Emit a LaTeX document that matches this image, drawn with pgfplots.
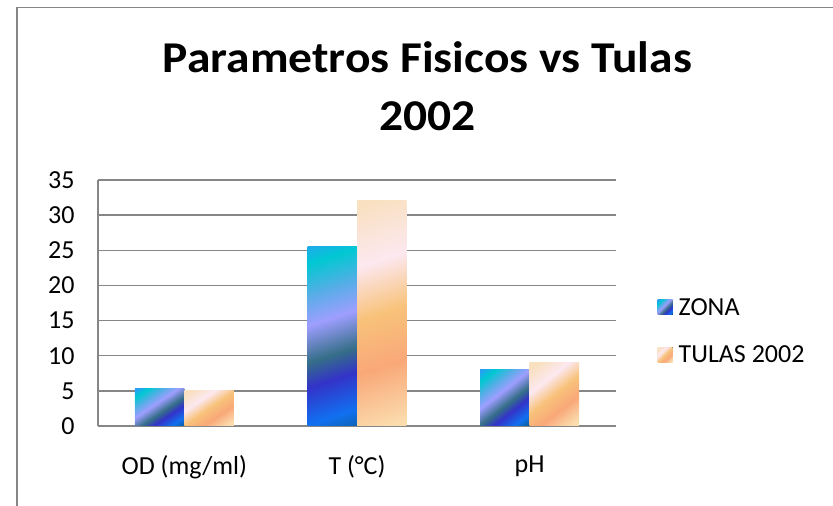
\documentclass[border=0pt]{standalone}
\usepackage{fontspec}
\setmainfont{Carlito}
\newfontfamily\titlefont{Carlito}[FakeStretch=1.08]
\usepackage{pgfplots}
\pgfplotsset{compat=1.18}
\definecolor{gridc}{HTML}{868686}
\definecolor{z1}{HTML}{0B5E9C}
\definecolor{z2}{HTML}{1170F0}
\definecolor{z3}{HTML}{3333C8}
\definecolor{z4}{HTML}{356E88}
\definecolor{z5}{HTML}{9E9EFF}
\definecolor{z6}{HTML}{55AEE6}
\definecolor{z7}{HTML}{00C8D2}
\definecolor{z8}{HTML}{2A9EF5}
\definecolor{t1}{HTML}{FBDCAE}
\definecolor{t2}{HTML}{F9A878}
\definecolor{t3}{HTML}{F8C27A}
\definecolor{t4}{HTML}{FCE8F0}
\definecolor{t5}{HTML}{F9E0C0}
\pgfdeclareverticalshading{zona}{100bp}{color(0bp)=(z1); color(16bp)=(z1); color(24bp)=(z2); color(36bp)=(z3); color(44bp)=(z4); color(56bp)=(z5); color(66bp)=(z6); color(76bp)=(z7); color(84bp)=(z8); color(100bp)=(z8)}
\pgfdeclareverticalshading{tulas}{100bp}{color(0bp)=(t1); color(20bp)=(t1); color(36bp)=(t2); color(50bp)=(t3); color(64bp)=(t4); color(80bp)=(t5); color(100bp)=(t5)}
\pgfplotsset{
 zonabar/.style={ybar, bar width=0.2866, bar shift=-0.1433, draw=none, shading=zona, shading angle=#1,
   legend image code/.code={\fill[shading=zona, shading angle=45] (0bp,-7.5bp) rectangle (15bp,7.5bp);}},
 tulasbar/.style={ybar, bar width=0.2866, bar shift=0.1433, draw=none, shading=tulas, shading angle=#1,
   legend image code/.code={\fill[shading=tulas, shading angle=45] (0bp,-7.5bp) rectangle (15bp,7.5bp);}},
}
\begin{document}
\begin{tikzpicture}
\useasboundingbox (0,0) rectangle (833bp,506bp);
\draw[gridc, line width=1.5bp] (17bp,0) -- (17bp,498.5bp) -- (833bp,498.5bp);
\begin{axis}[
 at={(98bp,80bp)}, anchor=south west,
 width=518bp, height=246bp, scale only axis,
 xmin=-0.5, xmax=2.5, ymin=0, ymax=35,
 xtick={0,1,2}, xticklabels={OD (mg/ml), T (°C), pH},
 ytick={0,5,...,35},
 axis x line*=bottom, axis y line*=left,
 axis line style={gridc, line width=1.3bp, -},
 ymajorgrids, grid style={gridc, line width=1.3bp},
 major tick length=0pt,
 tick label style={font=\fontsize{26bp}{31bp}\selectfont},
 /pgf/number format/assume math mode=true,
 xticklabel style={yshift=-26bp},
 yticklabel style={xshift=-20bp},
 title={Parametros Fisicos vs Tulas\\2002},
 title style={at={(0.636,1.537)}, anchor=north, align=center, font=\titlefont\bfseries\fontsize{44bp}{58bp}\selectfont, inner sep=0pt},
 legend style={at={(1.08,0.386)}, anchor=west, draw=none, fill=none, font=\fontsize{26bp}{31bp}\selectfont, row sep=25bp, inner sep=0pt,
   nodes={inner xsep=6bp}},
 legend cell align=left,
 clip=false,
]
\addplot[zonabar=34] coordinates {(0,5.3)};
\addplot[tulasbar=34] coordinates {(0,5.05)};
\addplot[zonabar=18, forget plot] coordinates {(1,25.5)};
\addplot[tulasbar=18, forget plot] coordinates {(1,32.1)};
\addplot[zonabar=38, forget plot] coordinates {(2,8.1)};
\addplot[tulasbar=38, forget plot] coordinates {(2,9.0)};
\legend{ZONA, TULAS 2002}
\end{axis}
\end{tikzpicture}
\end{document}
